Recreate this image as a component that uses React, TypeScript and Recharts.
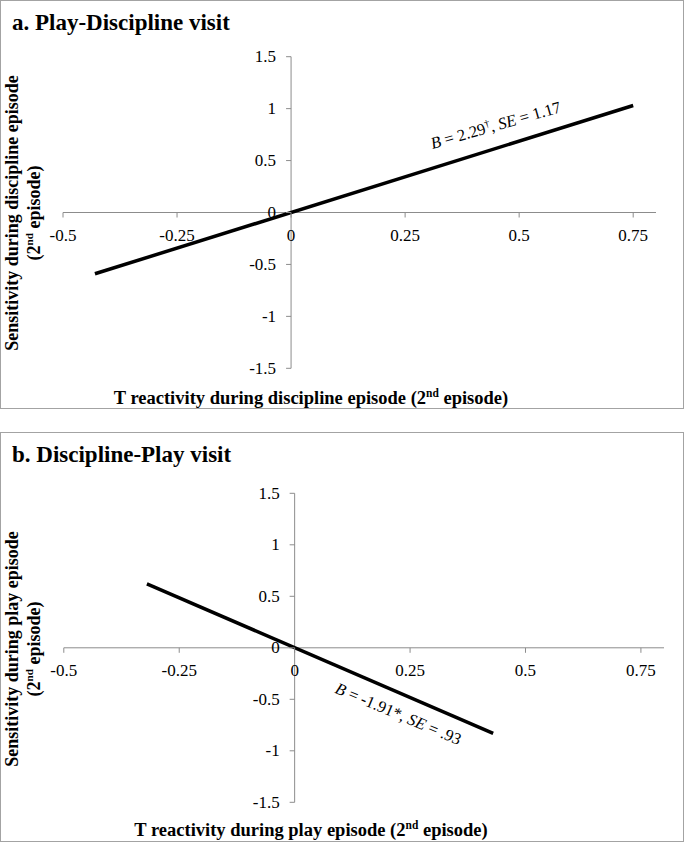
import { LineChart, Line, XAxis, YAxis, ReferenceLine, ReferenceDot } from 'recharts';

const xTicks = [-0.5, -0.25, 0, 0.25, 0.5, 0.75];
const yTicks = [-1.5, -1, -0.5, 0, 0.5, 1, 1.5];

// panel a: play-discipline visit
const playDisciplineX = [-0.43, 0.75];
const playDisciplineY = [-0.59, 1.03];

// panel b: discipline-play visit
const disciplinePlayX = [-0.32, 0.43];
const disciplinePlayY = [0.62, -0.83];

const FONT = '"Liberation Serif", "Times New Roman", serif';
const AXIS_COLOR = '#8c8c8c';

interface Annotation {
  x: number;
  y: number;
  angle: number;
  b: string;
  mark: string;
  se: string;
}

interface PanelProps {
  top: number;
  height: number;
  title: string;
  xTitle: string;
  yTitle: string;
  xs: number[];
  ys: number[];
  note: Annotation;
  margin: { top: number; right: number; bottom: number; left: number };
  yTitleY: number;
}

function XTickMark({ cx, cy, label }: { cx: number; cy: number; label: string }) {
  return (
    <g>
      <line x1={cx} y1={cy} x2={cx} y2={cy + 5} stroke={AXIS_COLOR} strokeWidth={1} />
      <text x={cx} y={cy + 28} textAnchor="middle" fontFamily={FONT} fontSize={17} fill="#000">
        {label}
      </text>
    </g>
  );
}

function YTickMark({ cx, cy, label }: { cx: number; cy: number; label: string }) {
  return (
    <g>
      <line x1={cx - 5} y1={cy} x2={cx} y2={cy} stroke={AXIS_COLOR} strokeWidth={1} />
      <text x={cx - 15} y={cy + 5.5} textAnchor="end" fontFamily={FONT} fontSize={17} fill="#000">
        {label}
      </text>
    </g>
  );
}

function NoteText({ cx, cy, note }: { cx: number; cy: number; note: Annotation }) {
  return (
    <text
      x={cx}
      y={cy}
      textAnchor="middle"
      fontFamily={FONT}
      fontSize={16.5}
      fill="#000"
      transform={`rotate(${note.angle} ${cx} ${cy})`}
    >
      <tspan fontStyle="italic">B</tspan>
      <tspan>{` = ${note.b}`}</tspan>
      {note.mark === '†' ? (
        <>
          <tspan dy={-6} fontSize={10.5}>†</tspan>
          <tspan dy={6}>, </tspan>
        </>
      ) : (
        <tspan>{`${note.mark}, `}</tspan>
      )}
      <tspan fontStyle="italic">SE</tspan>
      <tspan>{` = ${note.se}`}</tspan>
    </text>
  );
}

function Panel({ top, height, title, xTitle, yTitle, xs, ys, note, margin, yTitleY }: PanelProps) {
  const data = xs.map((x, i) => ({ x, y: ys[i] }));

  return (
    <div style={{ position: 'absolute', left: 0, top, width: 685, height }}>
      <div
        style={{
          position: 'absolute',
          left: 0,
          top: 0,
          width: 684,
          height: height - 1,
          boxSizing: 'border-box',
          border: '1px solid #a3a3a3',
        }}
      />
      <div
        style={{
          position: 'absolute',
          left: 12,
          top: 10.7,
          fontSize: 23,
          lineHeight: '23px',
          fontWeight: 'bold',
          whiteSpace: 'nowrap',
        }}
      >
        {title}
      </div>
      <div
        style={{
          position: 'absolute',
          left: 23 - 200,
          top: yTitleY - 22,
          width: 400,
          height: 44,
          transform: 'rotate(-90deg)',
          textAlign: 'center',
          fontSize: 18,
          lineHeight: '22px',
          fontWeight: 'bold',
          whiteSpace: 'nowrap',
        }}
      >
        {yTitle}
        <br />
        (2<sup style={{ fontSize: '0.62em', lineHeight: 0 }}>nd</sup> episode)
      </div>
      <div
        style={{
          position: 'absolute',
          left: 0,
          top: 388.5,
          width: 622,
          textAlign: 'center',
          fontSize: 18.5,
          lineHeight: '18.5px',
          fontWeight: 'bold',
          whiteSpace: 'nowrap',
        }}
      >
        {xTitle} (2<sup style={{ fontSize: '0.62em', lineHeight: 0 }}>nd</sup> episode)
      </div>
      <div style={{ position: 'absolute', left: 0, top: 0 }}>
        <LineChart width={685} height={height} data={data} margin={margin}>
          <XAxis dataKey="x" type="number" domain={[-0.5, 0.8]} hide />
          <YAxis type="number" domain={[-1.5, 1.5]} hide />
          <ReferenceLine y={0} stroke={AXIS_COLOR} strokeWidth={1} />
          <ReferenceLine x={0} stroke={AXIS_COLOR} strokeWidth={1} />
          {xTicks.map((t) => (
            <ReferenceDot
              key={`x${t}`}
              x={t}
              y={0}
              r={0}
              shape={(p: any) => <XTickMark cx={p.cx} cy={p.cy} label={String(t)} />}
            />
          ))}
          {yTicks.map((t) => (
            <ReferenceDot
              key={`y${t}`}
              x={0}
              y={t}
              r={0}
              shape={(p: any) => <YTickMark cx={p.cx} cy={p.cy} label={String(t)} />}
            />
          ))}
          <Line
            type="linear"
            dataKey="y"
            stroke="#000"
            strokeWidth={3.5}
            dot={false}
            activeDot={false}
            isAnimationActive={false}
          />
          <ReferenceDot
            x={note.x}
            y={note.y}
            r={0}
            shape={(p: any) => <NoteText cx={p.cx} cy={p.cy} note={note} />}
          />
        </LineChart>
      </div>
    </div>
  );
}

export default function App() {
  return (
    <div
      style={{
        position: 'absolute',
        left: 0,
        top: 0,
        width: 685,
        height: 843,
        background: '#fff',
        fontFamily: FONT,
        color: '#000',
      }}
    >
      <Panel
        top={0}
        height={410}
        title="a. Play-Discipline visit"
        xTitle="T reactivity during discipline episode"
        yTitle="Sensitivity during discipline episode"
        xs={playDisciplineX}
        ys={playDisciplineY}
        note={{ x: 0.452, y: 0.79, angle: -16, b: '2.29', mark: '†', se: '1.17' }}
        margin={{ top: 56.7, right: 29, bottom: 41.7, left: 63 }}
        yTitleY={213}
      />
      <Panel
        top={432}
        height={411}
        title="b. Discipline-Play visit"
        xTitle="T reactivity during play episode"
        yTitle="Sensitivity during play episode"
        xs={disciplinePlayX}
        ys={disciplinePlayY}
        note={{ x: 0.22, y: -0.69, angle: 23, b: '-1.91', mark: '*', se: '.93' }}
        margin={{ top: 61.3, right: 21, bottom: 40.7, left: 63.8 }}
        yTitleY={217}
      />
    </div>
  );
}
